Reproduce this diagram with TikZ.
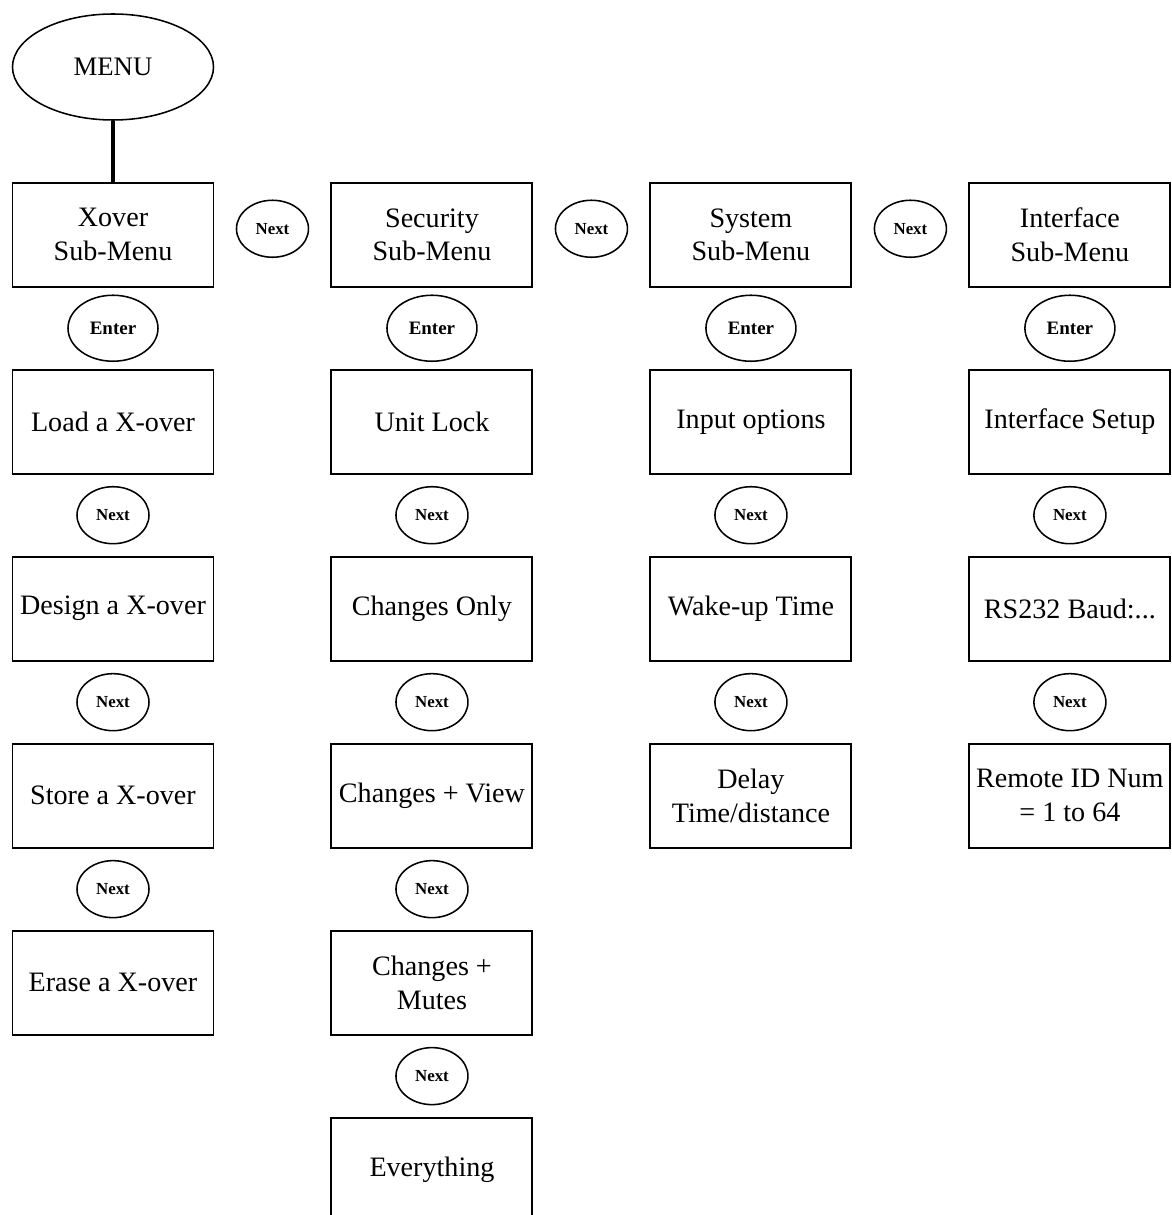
\documentclass[tikz,border=0pt]{standalone}
\usepackage{fontspec}
\setmainfont{Liberation Serif}
\usepackage{tikz}
\usetikzlibrary{shapes.geometric, positioning, calc}

\begin{document}
\begin{tikzpicture}[
    node distance=2.025cm,
    item/.style={rectangle, minimum width=5.025cm, minimum height=2.6cm, inner xsep=2pt, text centered, align=center, draw=black, line width=1.4pt, font=\fontsize{20}{24}\selectfont},
    menu/.style={ellipse, minimum width=5.025cm, minimum height=2.65cm, inner sep=0pt, draw=black, line width=1.1pt, font=\fontsize{19}{23}\selectfont},
    nextkey/.style={ellipse, minimum width=1.8cm, minimum height=1.425cm, inner sep=0pt, draw=black, line width=1.1pt, font=\bfseries\fontsize{12}{14}\selectfont},
    enterkey/.style={nextkey, minimum width=2.25cm, minimum height=1.65cm, font=\bfseries\fontsize{13.5}{16}\selectfont},
    link/.style={line width=2.4pt}
]

    % Top menu
    \node[menu] (menu) {MENU};
    \useasboundingbox ($(menu.center)+(-2.825,1.675)$) rectangle ++(29.275,-30.375);

    % Sub-menus
    \node[item, below=1.525cm of menu] (xover) {Xover\\Sub-Menu};
    \node[item, right=2.9cm of xover] (security) {Security\\Sub-Menu};
    \node[item, right=2.9cm of security] (system) {System\\Sub-Menu};
    \node[item, right=2.9cm of system] (interface) {Interface\\Sub-Menu};

    % Xover column
    \node[item, below=of xover] (load) {Load a X-over};
    \node[item, below=of load] (design) {Design a X-over};
    \node[item, below=of design] (store) {Store a X-over};
    \node[item, below=of store] (erase) {Erase a X-over};

    % Security column
    \node[item, below=of security] (unitlock) {Unit Lock};
    \node[item, below=of unitlock] (changes) {Changes Only};
    \node[item, below=of changes] (changesview) {Changes + View};
    \node[item, below=of changesview] (changesmutes) {Changes +\\Mutes};
    \node[item, below=of changesmutes] (everything) {Everything};

    % System column
    \node[item, below=of system] (input) {Input options};
    \node[item, below=of input] (wakeup) {Wake-up Time};
    \node[item, below=of wakeup] (delay) {Delay\\Time/distance};

    % Interface column
    \node[item, below=of interface] (setup) {Interface Setup};
    \node[item, below=of setup] (baud) {RS232 Baud:...};
    \node[item, below=of baud] (remoteid) {Remote ID Num\\= 1 to 64};

    % Keys between sub-menus
    \node[nextkey] (nextsec) at ($(xover.east)!0.5!(security.west)+(0,0.15)$) {Next};
    \node[nextkey] (nextsys) at ($(security.east)!0.5!(system.west)+(0,0.15)$) {Next};
    \node[nextkey] (nextint) at ($(system.east)!0.5!(interface.west)+(0,0.15)$) {Next};

    % Enter keys
    \node[enterkey] (enterxover) at ($(xover.south)!0.5!(load.north)$) {Enter};
    \node[enterkey] (entersec) at ($(security.south)!0.5!(unitlock.north)$) {Enter};
    \node[enterkey] (entersys) at ($(system.south)!0.5!(input.north)$) {Enter};
    \node[enterkey] (enterint) at ($(interface.south)!0.5!(setup.north)$) {Enter};

    % Next keys in the columns
    \node[nextkey] (nload) at ($(load.south)!0.5!(design.north)$) {Next};
    \node[nextkey] (ndesign) at ($(design.south)!0.5!(store.north)$) {Next};
    \node[nextkey] (nstore) at ($(store.south)!0.5!(erase.north)$) {Next};
    \node[nextkey] (nlock) at ($(unitlock.south)!0.5!(changes.north)$) {Next};
    \node[nextkey] (nchanges) at ($(changes.south)!0.5!(changesview.north)$) {Next};
    \node[nextkey] (nview) at ($(changesview.south)!0.5!(changesmutes.north)$) {Next};
    \node[nextkey] (nmutes) at ($(changesmutes.south)!0.5!(everything.north)$) {Next};
    \node[nextkey] (ninput) at ($(input.south)!0.5!(wakeup.north)$) {Next};
    \node[nextkey] (nwakeup) at ($(wakeup.south)!0.5!(delay.north)$) {Next};
    \node[nextkey] (nsetup) at ($(setup.south)!0.5!(baud.north)$) {Next};
    \node[nextkey] (nbaud) at ($(baud.south)!0.5!(remoteid.north)$) {Next};

    % Connection
    \draw[link] (menu) -- (xover);

\end{tikzpicture}
\end{document}
